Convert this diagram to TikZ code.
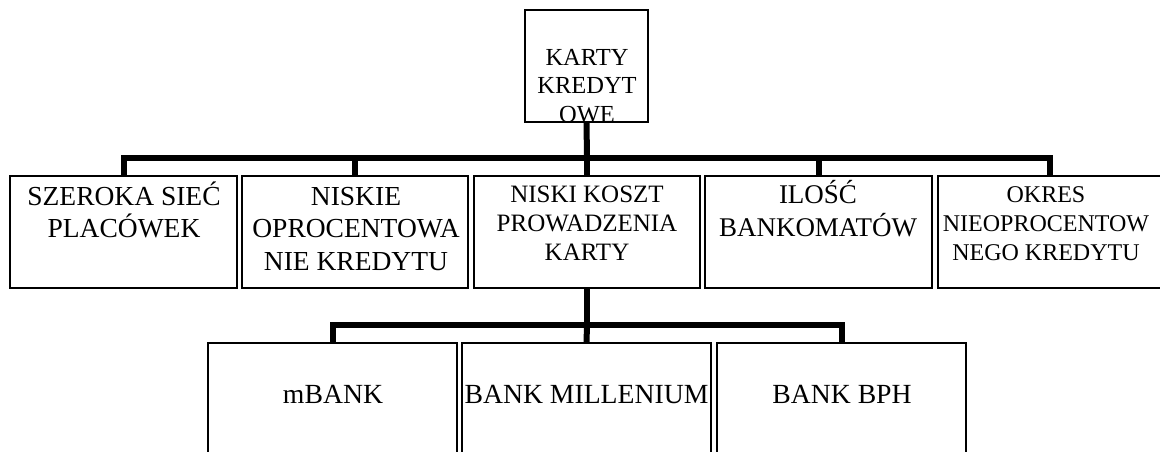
\documentclass[tikz,border=0pt]{standalone}
\usepackage{fontspec}
\setmainfont{Liberation Serif}
\newcommand{\firstln}{\rule{0pt}{30pt}}
\begin{document}
\begin{tikzpicture}[x=1pt,y=-1pt,
  box/.style={draw=black, line width=1.5pt, inner sep=0pt, outer sep=0pt, anchor=north west},
  conn/.style={draw=black, line width=6pt},
  lbl/.style={anchor=north, inner sep=0pt, align=center, text=black},
]
\useasboundingbox (0,0) rectangle (1160,452);
\fill[white] (0,0) rectangle (1160,452);
\clip (0,0) rectangle (1160,452);

% texts
\node[lbl, font=\fontsize{24.5}{28.5}\selectfont] (ttop) at (587,35) {\firstln KARTY\\KREDYT\\OWE};
\node[lbl, font=\fontsize{27.5}{32.5}\selectfont] (t1) at (124,175) {\firstln SZEROKA SIEĆ\\PLACÓWEK};
\node[lbl, font=\fontsize{27.5}{32.5}\selectfont] (t2) at (356,175) {\firstln NISKIE\\OPROCENTOWA\\NIE KREDYTU};
\node[lbl, font=\fontsize{25}{29}\selectfont] (t3) at (587,172) {\firstln NISKI KOSZT\\PROWADZENIA\\KARTY};
\node[lbl, font=\fontsize{27}{33}\selectfont] (t4) at (818,173) {\firstln ILOŚĆ\\BANKOMATÓW};
\node[lbl, font=\fontsize{24}{29}\selectfont] (t5) at (1046,172) {\firstln OKRES\\NIEOPROCENTOW\\NEGO KREDYTU};
\node[lbl, font=\fontsize{27.7}{33}\selectfont] (u1) at (333,373) {\firstln mBANK};
\node[lbl, font=\fontsize{27.7}{33}\selectfont] (u2) at (586.5,373) {\firstln BANK MILLENIUM};
\node[lbl, font=\fontsize{27.7}{33}\selectfont] (u3) at (842,373) {\firstln BANK BPH};

% boxes
\node[box, minimum width=123pt, minimum height=112pt] (top) at (525,10) {};
\node[box, minimum width=227pt, minimum height=112pt] (b1) at (10,176) {};
\node[box, minimum width=226pt, minimum height=112pt] (b2) at (242,176) {};
\node[box, minimum width=226pt, minimum height=112pt] (b3) at (474,176) {};
\node[box, minimum width=227pt, minimum height=112pt] (b4) at (705,176) {};
\node[box, minimum width=224pt, minimum height=112pt] (b5) at (938,176) {};
\node[box, minimum width=249pt, minimum height=130pt] (c1) at (208,343) {};
\node[box, minimum width=249pt, minimum height=130pt] (c2) at (462,343) {};
\node[box, minimum width=249pt, minimum height=130pt] (c3) at (717,343) {};

% junctions
\coordinate (j1) at (587,158);
\coordinate (j2) at (587,325);

% connectors
\draw[conn] (top.south) -- (j1);
\draw[conn] (b1.north) |- (j1);
\draw[conn] (b2.north) |- (j1);
\draw[conn] (b3.north) -- (j1);
\draw[conn] (b4.north) |- (j1);
\draw[conn] (b5.north) |- (j1);
\draw[conn] (b3.south) -- (j2);
\draw[conn] (c1.north) |- (j2);
\draw[conn] (c2.north) -- (j2);
\draw[conn] (c3.north) |- (j2);
\end{tikzpicture}
\end{document}
